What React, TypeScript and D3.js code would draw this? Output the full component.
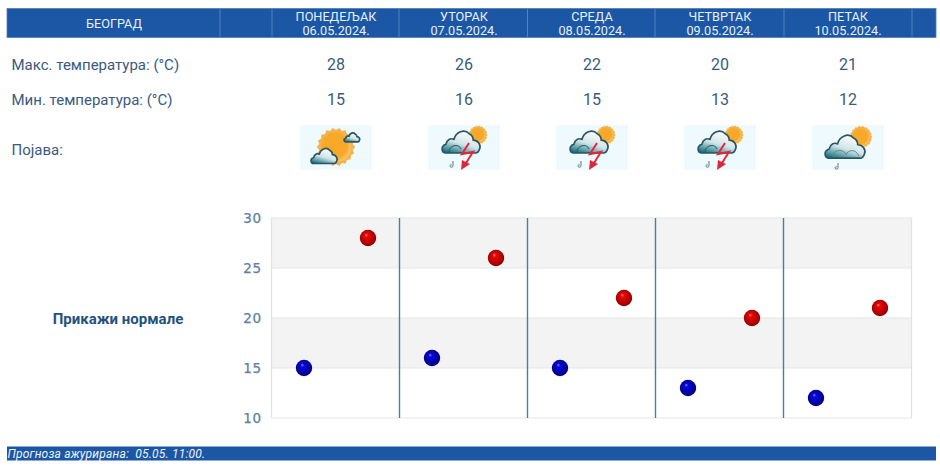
import * as d3 from 'd3'

const city = 'БЕОГРАД'
const days = ['ПОНЕДЕЉАК', 'УТОРАК', 'СРЕДА', 'ЧЕТВРТАК', 'ПЕТАК']
const dates = ['06.05.2024.', '07.05.2024.', '08.05.2024.', '09.05.2024.', '10.05.2024.']
const maxTemps = [28, 26, 22, 20, 21]
const minTemps = [15, 16, 15, 13, 12]
const icons = ['sun', 'storm', 'storm', 'storm', 'rain']
const yTicks = [10, 15, 20, 25, 30]
const headerLines = [220, 272, 399, 527.5, 655, 784, 912]

const W = 940
const H = 467
const plot = { left: 272, right: 912, top: 218, bottom: 418 }
const TEXT = '#3a5a80'
const BLUE = '#1b57a5'

const x = d3.scaleLinear().domain([0, 5]).range([plot.left, plot.right])
const y = d3.scaleLinear().domain([10, 30]).range([plot.bottom, plot.top])
const bands = d3.pairs(yTicks).filter((_, i) => i % 2 === 1)

function sunSpikes(r: number, n: number) {
  const pts = d3.range(n * 2).map(i => {
    const a = (i / (n * 2)) * Math.PI * 2
    const rr = i % 2 ? r : r * 1.13
    return [Math.cos(a) * rr, Math.sin(a) * rr] as [number, number]
  })
  return d3.line().curve(d3.curveLinearClosed)(pts) ?? ''
}

function Sun({ cx, cy, r }: { cx: number; cy: number; r: number }) {
  return (
    <g transform={`translate(${cx},${cy})`}>
      <path d={sunSpikes(r, 18)} fill="#f6b24a" />
      <circle r={r * 0.88} fill="url(#sunFill)" />
    </g>
  )
}

const CLOUD = 'M5 30 C-1 30 -2 21 5 19 C6 13 11 11 15 13 C17 4 28 -1 34 6 C38 8 39 11 39 14 C45 14 49 20 47 25 C46 28 45 30 42 30 Z'

function Cloud({ tx, ty, s }: { tx: number; ty: number; s: number }) {
  return (
    <g transform={`translate(${tx},${ty}) scale(${s})`}>
      <path d={CLOUD} fill="url(#cloudFill)" stroke="#2b5560" strokeWidth={1.7 / s} strokeLinejoin="round" />
    </g>
  )
}

function Note({ px, py }: { px: number; py: number }) {
  return (
    <path
      d={`M${px} ${py}v5a1.5 1.2 0 1 1-1.2-1.2`}
      fill="none"
      stroke="#667c82"
      strokeWidth={1}
    />
  )
}

function Bolt() {
  return (
    <g>
      <path d="M41 18 L34 29 L45 27 L38 38" fill="none" stroke="#e2263a" strokeWidth={2} />
      <path d="M33 45 L34 35 L42 39 Z" fill="#e2263a" />
    </g>
  )
}

function WeatherIcon({ kind, cx }: { kind: string; cx: number }) {
  return (
    <g transform={`translate(${cx - 36},125)`}>
      <rect width={72} height={45} fill="#eefafd" />
      {kind === 'sun' && (
        <g>
          <Sun cx={36} cy={22} r={17} />
          <Cloud tx={44} ty={7} s={0.33} />
          <Cloud tx={11} ty={22} s={0.55} />
        </g>
      )}
      {kind === 'storm' && (
        <g>
          <Sun cx={50} cy={10} r={8.5} />
          <Cloud tx={14} ty={4} s={0.8} />
          <path d="M21 28 C20 20 31 18 33 24" fill="none" stroke="#2b5560" strokeWidth={1} />
          <Note px={25} py={36} />
          <Bolt />
        </g>
      )}
      {kind === 'rain' && (
        <g>
          <Sun cx={49} cy={12} r={10} />
          <Cloud tx={13} ty={8} s={0.84} />
          <path d="M21 32 C20 25 30 23 34 29 M34 30 C36 24 44 24 47 31" fill="none" stroke="#5f8790" strokeWidth={1} />
          <Note px={26} py={38} />
        </g>
      )}
    </g>
  )
}

export default function App() {
  const colX = (i: number) => x(i + 0.5)
  const rowLabel = { fontFamily: 'Roboto', fontSize: 15, fill: TEXT }
  const cellText = { fontFamily: 'Roboto', fontSize: 16, fill: TEXT, textAnchor: 'middle' as const }
  const headText = { fontFamily: 'Roboto', fontSize: 12.7, fill: '#e8eff8', textAnchor: 'middle' as const }

  return (
    <svg width={W} height={H} style={{ position: 'absolute', left: 0, top: 0, background: '#fff' }}>
      <defs>
        <radialGradient id="redBall" cx="0.5" cy="0.5" r="0.55" fx="0.38" fy="0.3">
          <stop offset="0" stopColor="#ff8080" />
          <stop offset="0.2" stopColor="#e80808" />
          <stop offset="0.75" stopColor="#b00000" />
          <stop offset="1" stopColor="#6e0000" />
        </radialGradient>
        <radialGradient id="blueBall" cx="0.5" cy="0.5" r="0.55" fx="0.38" fy="0.3">
          <stop offset="0" stopColor="#8080ff" />
          <stop offset="0.2" stopColor="#0808d8" />
          <stop offset="0.75" stopColor="#00009c" />
          <stop offset="1" stopColor="#00006a" />
        </radialGradient>
        <radialGradient id="sunFill" cx="0.45" cy="0.45" r="0.6">
          <stop offset="0" stopColor="#f9a825" />
          <stop offset="0.7" stopColor="#f7a92c" />
          <stop offset="1" stopColor="#fbd07a" />
        </radialGradient>
        <linearGradient id="cloudFill" x1="0.7" y1="0" x2="0.2" y2="1">
          <stop offset="0" stopColor="#ffffff" />
          <stop offset="0.55" stopColor="#cfe4e9" />
          <stop offset="1" stopColor="#16707f" />
        </linearGradient>
      </defs>

      {/* header bar */}
      <rect x={7} y={8.5} width={929} height={29} fill={BLUE} stroke="#4f7fb0" strokeWidth={0.8} />
      {headerLines.map(lx => (
        <line key={lx} x1={lx} x2={lx} y1={9} y2={37} stroke="#5f8fc4" strokeWidth={0.8} />
      ))}
      <text x={114} y={28} {...headText}>{city}</text>
      {days.map((d, i) => (
        <g key={d}>
          <text x={colX(i)} y={20.5} {...headText}>{d}</text>
          <text x={colX(i)} y={35} {...headText}>{dates[i]}</text>
        </g>
      ))}

      {/* forecast table */}
      <text x={11.5} y={69.5} {...rowLabel}>Макс. температура: (°C)</text>
      <text x={11.5} y={104.5} {...rowLabel}>Мин. температура: (°C)</text>
      <text x={11.5} y={155} {...rowLabel}>Појава:</text>
      {maxTemps.map((t, i) => (
        <text key={i} x={colX(i)} y={69.5} {...cellText}>{t}</text>
      ))}
      {minTemps.map((t, i) => (
        <text key={i} x={colX(i)} y={104.5} {...cellText}>{t}</text>
      ))}
      {icons.map((k, i) => (
        <WeatherIcon key={i} kind={k} cx={colX(i)} />
      ))}

      <text x={118} y={324} textAnchor="middle" fontFamily="Roboto" fontWeight={700} fontSize={15} fill="#23527f">
        Прикажи нормале
      </text>

      {/* chart */}
      {bands.map(([a, b]) => (
        <rect key={a} x={plot.left - 0.5} width={plot.right - plot.left} y={y(b)} height={y(a) - y(b)} fill="#f3f3f3" />
      ))}
      {yTicks.map(t => (
        <g key={t}>
          <line x1={plot.left - 0.5} x2={plot.right - 0.5} y1={y(t)} y2={y(t)} stroke="#e4e6e8" strokeWidth={1.2} />
          <text x={262} y={y(t) + 5} textAnchor="end" fontFamily="DejaVu Sans" fontSize={13.5} fontWeight={500} letterSpacing={0.8} fill="#5d80a2" stroke="#5d80a2" strokeWidth={0.25}>
            {t}
          </text>
        </g>
      ))}
      <line x1={plot.left - 0.5} x2={plot.left - 0.5} y1={plot.top} y2={plot.bottom} stroke="#dfe1e3" strokeWidth={1.2} />
      <line x1={plot.right - 0.5} x2={plot.right - 0.5} y1={plot.top} y2={plot.bottom} stroke="#dfe1e3" strokeWidth={1.2} />
      {d3.range(1, 5).map(i => (
        <line key={i} x1={x(i) - 0.5} x2={x(i) - 0.5} y1={plot.top} y2={plot.bottom} stroke="#4f7c9e" strokeWidth={1.4} />
      ))}
      {minTemps.map((t, i) => (
        <circle key={i} cx={x(i + 0.25)} cy={y(t)} r={8.2} fill="url(#blueBall)" />
      ))}
      {maxTemps.map((t, i) => (
        <circle key={i} cx={x(i + 0.75)} cy={y(t)} r={8.2} fill="url(#redBall)" />
      ))}

      {/* footer bar */}
      <rect x={7} y={446.5} width={929} height={14} fill={BLUE} />
      <text x={7.5} y={457.5} fontFamily="Roboto" fontStyle="italic" fontSize={12} letterSpacing={0.2} fill="#eef3fa" xmlSpace="preserve">
        {'Прогноза ажурирана:  05.05. 11:00.'}
      </text>
    </svg>
  )
}
